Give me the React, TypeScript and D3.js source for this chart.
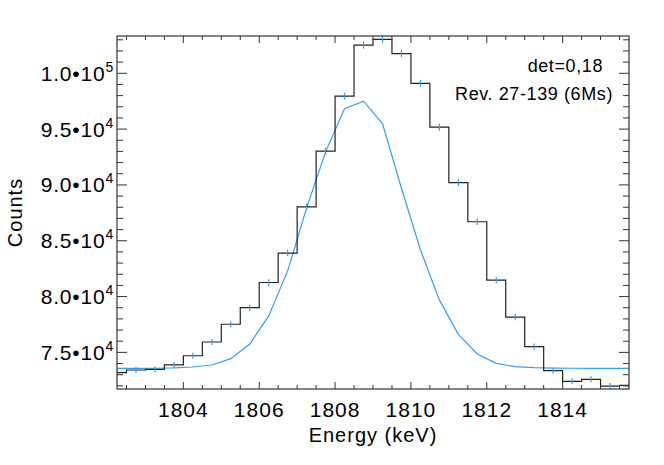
import React, { useRef, useEffect } from 'react'
import * as d3 from 'd3'

// bin centres (keV), 0.5 keV wide
const energies = [
  1802.25, 1802.75, 1803.25, 1803.75, 1804.25, 1804.75, 1805.25, 1805.75,
  1806.25, 1806.75, 1807.25, 1807.75, 1808.25, 1808.75, 1809.25, 1809.75,
  1810.25, 1810.75, 1811.25, 1811.75, 1812.25, 1812.75, 1813.25, 1813.75,
  1814.25, 1814.75, 1815.25, 1815.75
]

// measured counts
const counts = [
  73180, 73420, 73480, 73880, 74700, 75930, 77520, 79010,
  81260, 83900, 88030, 93020, 97950, 102530, 103040, 101760,
  99090, 95170, 90210, 86700, 81470, 78150, 75510, 73360,
  72410, 72590, 71980, 72050
]

// fitted model
const model = [
  73560, 73570, 73580, 73610, 73690, 73870, 74440, 75750,
  78270, 82300, 87940, 92960, 96820, 97500, 95500, 89700,
  84190, 79700, 76620, 74860, 74020, 73720, 73630, 73590,
  73580, 73575, 73572, 73572
]

const xMajorTicks = [1804, 1806, 1808, 1810, 1812, 1814]
const yMajorTicks = [75000, 80000, 85000, 90000, 95000, 100000]
const yTickMantissa = ['7.5', '8.0', '8.5', '9.0', '9.5', '1.0']
const yTickExponent = ['4', '4', '4', '4', '4', '5']
const annotations = ['det=0,18', 'Rev. 27-139 (6Ms)']

const WIDTH = 664
const HEIGHT = 465
const FONT = '"Liberation Sans", Arial, Helvetica, sans-serif'

const App: React.FC = () => {
  const svgRef = useRef<SVGSVGElement>(null)

  useEffect(() => {
    if (!svgRef.current) return
    const svg = d3.select(svgRef.current)
    svg.selectAll('*').remove()

    const left = 117, right = 629, top = 36, bottom = 389

    const x = d3.scaleLinear().domain([1802.25, 1815.75]).range([left, right])
    const y = d3.scaleLinear().domain([71720, 103340]).range([bottom, top])

    svg.append('defs').append('clipPath').attr('id', 'plot-clip')
      .append('rect')
      .attr('x', left).attr('y', top)
      .attr('width', right - left).attr('height', bottom - top)

    const plot = svg.append('g').attr('clip-path', 'url(#plot-clip)')

    // model curve
    const modelLine = d3.line<number>()
      .x((_, i) => x(energies[i]))
      .y(d => y(d))
    plot.append('path')
      .attr('d', modelLine(model))
      .attr('fill', 'none')
      .attr('stroke', '#2ea0f6')
      .attr('stroke-width', 1.2)

    // histogram of the data
    const stepLine = d3.line<number>()
      .x((_, i) => x(energies[i]))
      .y(d => y(d))
      .curve(d3.curveStep)
    plot.append('path')
      .attr('d', stepLine(counts))
      .attr('fill', 'none')
      .attr('stroke', '#222')
      .attr('stroke-width', 1.2)

    // error bars, +-sqrt(N)
    plot.selectAll('.err')
      .data(counts)
      .enter()
      .append('line')
      .attr('class', 'err')
      .attr('x1', (_, i) => x(energies[i]))
      .attr('x2', (_, i) => x(energies[i]))
      .attr('y1', d => y(d - Math.sqrt(d)))
      .attr('y2', d => y(d + Math.sqrt(d)))
      .attr('stroke', '#2ea0f6')
      .attr('stroke-width', 1.2)

    // frame
    const axisColor = '#333'
    svg.append('rect')
      .attr('x', left).attr('y', top)
      .attr('width', right - left).attr('height', bottom - top)
      .attr('fill', 'none')
      .attr('stroke', axisColor)
      .attr('stroke-width', 1.2)

    // x ticks (bottom and top)
    const xMinor = d3.range(1802.5, 1815.75, 0.5).filter(v => !xMajorTicks.includes(v))
    const ticks = svg.append('g').attr('stroke', axisColor).attr('stroke-width', 1)
    const drawX = (vals: number[], len: number) => {
      vals.forEach(v => {
        ticks.append('line').attr('x1', x(v)).attr('x2', x(v)).attr('y1', bottom).attr('y2', bottom - len)
        ticks.append('line').attr('x1', x(v)).attr('x2', x(v)).attr('y1', top).attr('y2', top + len)
      })
    }
    drawX(xMajorTicks, 7)
    drawX(xMinor, 4)

    // y ticks (left and right)
    const yMinor = d3.range(72000, 103001, 1000).filter(v => !yMajorTicks.includes(v))
    const drawY = (vals: number[], len: number) => {
      vals.forEach(v => {
        ticks.append('line').attr('x1', left).attr('x2', left + len).attr('y1', y(v)).attr('y2', y(v))
        ticks.append('line').attr('x1', right).attr('x2', right - len).attr('y1', y(v)).attr('y2', y(v))
      })
    }
    drawY(yMajorTicks, 10)
    drawY(yMinor, 6)

    // x tick labels
    svg.selectAll('.xlab')
      .data(xMajorTicks)
      .enter()
      .append('text')
      .attr('class', 'xlab')
      .attr('x', d => x(d))
      .attr('y', 417)
      .attr('text-anchor', 'middle')
      .style('font-family', FONT)
      .style('font-size', '21px')
      .style('letter-spacing', '1px')
      .text(d => String(d))

    // y tick labels with exponent
    const yLabels = svg.selectAll('.ylab')
      .data(yMajorTicks)
      .enter()
      .append('text')
      .attr('class', 'ylab')
      .attr('x', 114)
      .attr('y', d => y(d) + 7.5)
      .attr('text-anchor', 'end')
      .style('font-family', FONT)
      .style('font-size', '21px')
      .style('letter-spacing', '0.8px')
    yLabels.append('tspan').text((_, i) => `${yTickMantissa[i]}•10`)
    yLabels.append('tspan')
      .attr('dy', -9)
      .style('font-size', '14px')
      .text((_, i) => yTickExponent[i])

    // axis titles
    svg.append('text')
      .attr('x', (left + right) / 2)
      .attr('y', 442)
      .attr('text-anchor', 'middle')
      .style('font-family', FONT)
      .style('font-size', '20px')
      .style('letter-spacing', '1px')
      .text('Energy (keV)')

    svg.append('text')
      .attr('transform', `translate(22, ${(top + bottom) / 2}) rotate(-90)`)
      .attr('text-anchor', 'middle')
      .style('font-family', FONT)
      .style('font-size', '20px')
      .style('letter-spacing', '1px')
      .text('Counts')

    // annotations
    svg.append('text')
      .attr('x', 603).attr('y', 72)
      .attr('text-anchor', 'end')
      .style('font-family', FONT)
      .style('font-size', '18px')
      .style('letter-spacing', '0.6px')
      .text(annotations[0])
    svg.append('text')
      .attr('x', 613).attr('y', 100)
      .attr('text-anchor', 'end')
      .style('font-family', FONT)
      .style('font-size', '18px')
      .style('letter-spacing', '0.6px')
      .text(annotations[1])
  }, [])

  return (
    <svg
      ref={svgRef}
      width={WIDTH}
      height={HEIGHT}
      style={{ position: 'absolute', left: 0, top: 0, background: '#fff' }}
    />
  )
}

export default App
